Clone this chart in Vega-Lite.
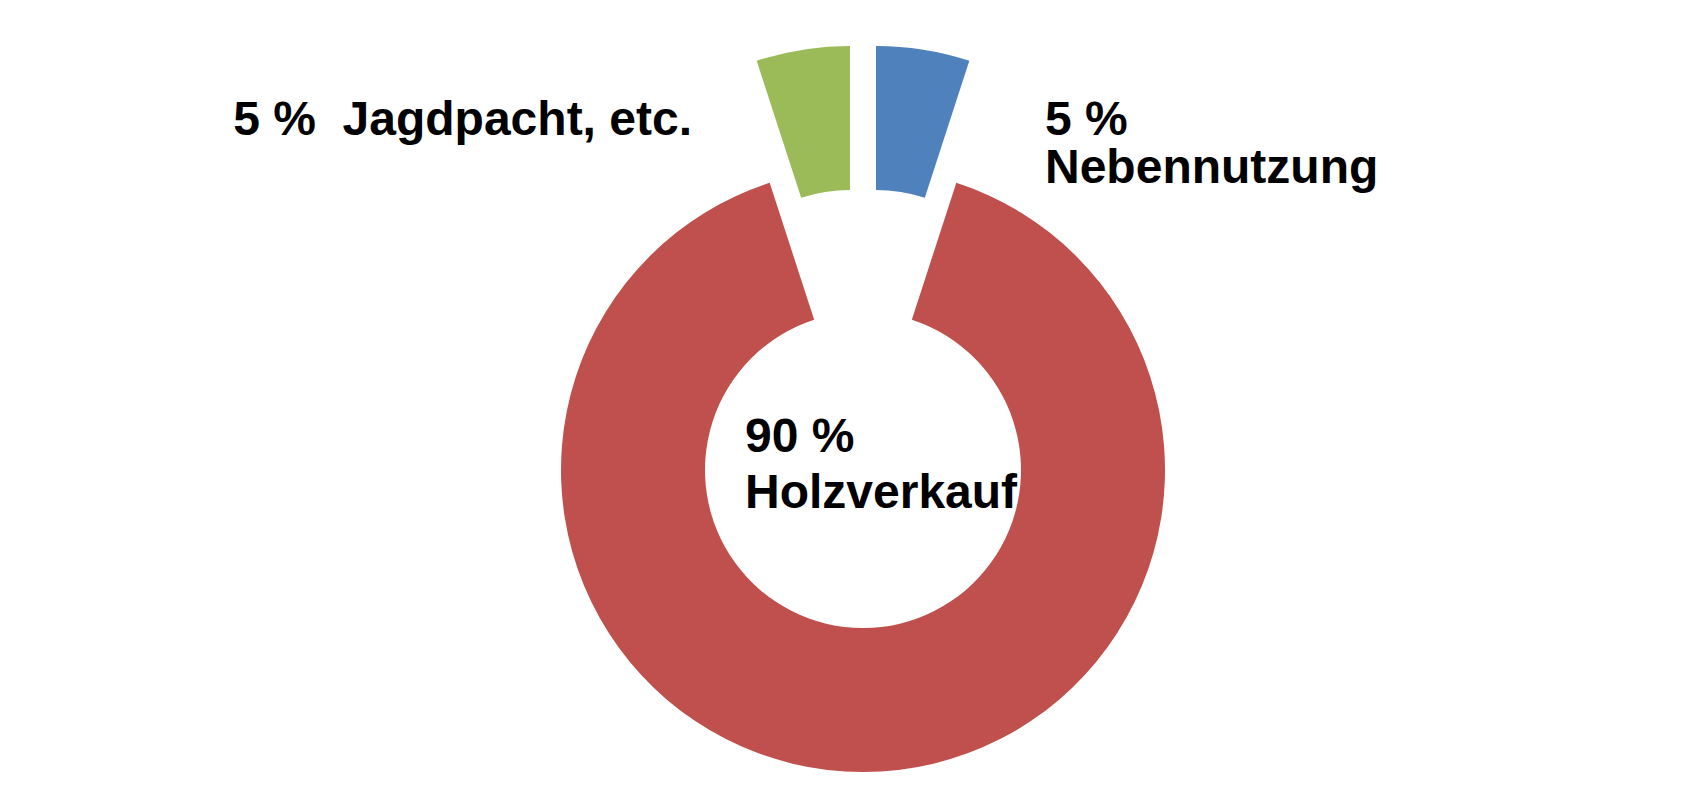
{
  "$schema": "https://vega.github.io/schema/vega-lite/v6.json",
  "width": 1682,
  "height": 644,
  "autosize": "none",
  "padding": {"left": 22, "top": 148, "right": 0, "bottom": 0},
  "background": "white",
  "config": {
    "view": {"stroke": null},
    "text": {"font": "Liberation Sans", "fontWeight": "bold", "fontSize": 48, "color": "black"}
  },
  "data": {
    "values": [
      {"rang": 1, "kategorie": "Nebennutzung", "anteil": 5, "beschriftung": "5 %\nNebennutzung"},
      {"rang": 2, "kategorie": "Holzverkauf", "anteil": 90, "beschriftung": "90 %\nHolzverkauf"},
      {"rang": 3, "kategorie": "Jagdpacht, etc.", "anteil": 5, "beschriftung": "5 %\u00a0 Jagdpacht, etc."}
    ]
  },
  "transform": [
    {"stack": "anteil", "groupby": [], "sort": [{"field": "rang", "order": "ascending"}], "as": ["von", "bis"]}
  ],
  "layer": [
    {
      "encoding": {
        "theta": {"field": "von", "type": "quantitative", "scale": {"domain": [0, 100]}},
        "theta2": {"field": "bis"},
        "color": {
          "field": "kategorie",
          "type": "nominal",
          "scale": {"domain": ["Nebennutzung", "Holzverkauf", "Jagdpacht, etc."], "range": ["#4F81BD", "#C0504D", "#9BBB59"]},
          "legend": null
        }
      },
      "layer": [
        {
          "transform": [{"filter": "datum.kategorie === 'Holzverkauf'"}],
          "mark": {"type": "arc", "outerRadius": 302, "innerRadius": 158}
        },
        {
          "transform": [{"filter": "datum.kategorie === 'Nebennutzung'"}],
          "mark": {"type": "arc", "outerRadius": 302, "innerRadius": 158, "xOffset": 13, "yOffset": -122}
        },
        {
          "transform": [{"filter": "datum.kategorie === 'Jagdpacht, etc.'"}],
          "mark": {"type": "arc", "outerRadius": 302, "innerRadius": 158, "xOffset": -13, "yOffset": -122}
        }
      ]
    },
    {
      "transform": [{"filter": "datum.kategorie === 'Jagdpacht, etc.'"}],
      "mark": {"type": "text", "align": "right", "baseline": "alphabetic", "dx": -171, "dy": -335},
      "encoding": {"text": {"field": "beschriftung", "type": "nominal"}}
    },
    {
      "transform": [{"filter": "datum.kategorie === 'Nebennutzung'"}],
      "mark": {"type": "text", "align": "left", "baseline": "alphabetic", "dx": 182, "dy": -335, "lineBreak": "\n", "lineHeight": 48},
      "encoding": {"text": {"field": "beschriftung", "type": "nominal"}}
    },
    {
      "transform": [{"filter": "datum.kategorie === 'Holzverkauf'"}],
      "mark": {"type": "text", "align": "left", "baseline": "alphabetic", "dx": -118, "dy": -18, "lineBreak": "\n", "lineHeight": 56},
      "encoding": {"text": {"field": "beschriftung", "type": "nominal"}}
    }
  ]
}
